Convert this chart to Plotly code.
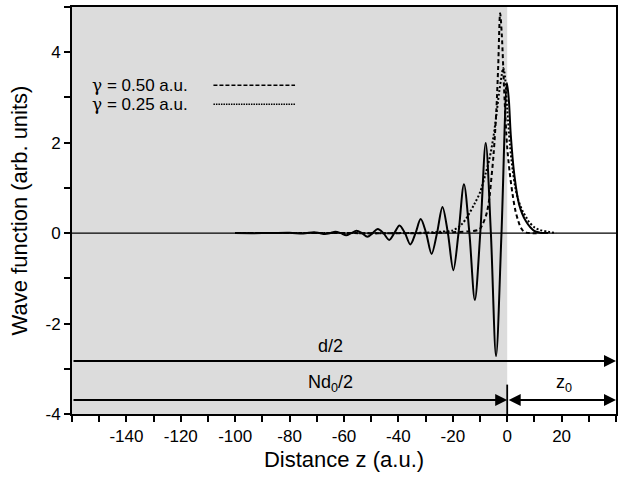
import plotly.graph_objects as go

# ---- data ----
z_solid = [-100, -90, -80, -75, -71, -69, -67, -65, -63.2, -61.2, -59.2, -57.3, -55.4, -53.4,
           -51.4, -49.5, -47.6, -45.5, -43.4, -41.5, -39.6, -37.6, -35.6, -33.7, -31.8, -29.8,
           -27.8, -25.8, -23.8, -21.8, -19.8, -17.9, -15.9, -13.9, -11.9, -9.9, -7.9, -6.0,
           -4.1, -2.1, -0.1, 0.6, 1.3, 2.6, 4.4, 6.9, 9.9, 12, 15]
psi_solid = [0, 0, 0.01, -0.01, 0.02, 0, -0.02, 0, 0.03, 0, -0.05, 0, 0.05, 0,
             -0.08, 0, 0.09, 0, -0.15, 0, 0.17, 0, -0.25, 0, 0.31, 0,
             -0.46, 0, 0.58, 0, -0.82, 0, 1.08, 0, -1.48, 0, 1.99, 0,
             -2.72, 0, 3.32, 2.95, 2.18, 1.3, 0.63, 0.26, 0.05, 0.01, 0]

z_g050 = [-100, -60, -30, -20, -14, -10.3, -9, -7.5, -6.5, -6, -5, -4, -3.3, -2.6,
          -2, -1, 0, 1, 2, 3, 4, 5, 6, 7, 9, 12]
psi_g050 = [0, 0, 0, 0.02, 0.04, 0.08, 0.2, 0.45, 0.8, 1.1, 1.75, 2.7, 3.7, 4.86,
            4.4, 3.0, 1.9, 1.3, 0.85, 0.5, 0.28, 0.12, 0.04, 0.01, 0, 0]

z_g025 = [-100, -60, -40, -30, -25, -20, -17, -15, -12, -10, -8, -6.5, -5, -4, -3, -2,
          -1.5, -1, 0, 1, 2, 3, 4, 5, 6, 7, 8, 10, 12, 15, 18]
psi_g025 = [0, 0, 0, 0.01, 0.03, 0.06, 0.18, 0.33, 0.65, 0.9, 1.3, 1.65, 2.15, 2.6, 3.1, 3.5,
            3.65, 3.55, 2.75, 1.95, 1.4, 1.0, 0.75, 0.58, 0.45, 0.35, 0.25, 0.13, 0.07, 0.03, 0]

legend_labels = ["<span style='font-family:DejaVu Serif'>γ</span> = 0.50 a.u.",
                 "<span style='font-family:DejaVu Serif'>γ</span> = 0.25 a.u."]
x_ticks = [-140, -120, -100, -80, -60, -40, -20, 0, 20]
y_ticks = [-4, -2, 0, 2, 4]
x_range = [-160, 40]
y_range = [-4, 5]

FONT = "Liberation Sans, Arial, Helvetica, sans-serif"

fig = go.Figure()

fig.add_trace(go.Scatter(x=z_solid, y=psi_solid, mode="lines",
                         line=dict(color="black", width=2, shape="spline", smoothing=0.9),
                         showlegend=False, hoverinfo="skip"))
fig.add_trace(go.Scatter(x=z_g050, y=psi_g050, mode="lines",
                         line=dict(color="black", width=2, dash="4px,3px", shape="spline", smoothing=0.9),
                         showlegend=False, hoverinfo="skip"))
fig.add_trace(go.Scatter(x=z_g025, y=psi_g025, mode="lines",
                         line=dict(color="black", width=2, dash="2px,2px", shape="spline", smoothing=0.9),
                         showlegend=False, hoverinfo="skip"))

shapes = [
    # grey shaded region (z < 0)
    dict(type="rect", xref="x", yref="paper", x0=x_range[0], x1=0, y0=0, y1=1,
         fillcolor="#dcdcdc", line=dict(width=0), layer="below"),
    # zero line
    dict(type="line", xref="paper", yref="y", x0=0, x1=1, y0=0, y1=0,
         line=dict(color="black", width=1.2), layer="below"),
    # vertical marker at z=0 for the arrows
    dict(type="line", xref="x", yref="y", x0=0, x1=0, y0=-3.35, y1=y_range[0],
         line=dict(color="black", width=1.8)),
    # legend line samples
    dict(type="line", xref="x", yref="y", x0=-108, x1=-78, y0=3.27, y1=3.27,
         line=dict(color="black", width=1.5, dash="4px,2px")),
    dict(type="line", xref="x", yref="y", x0=-108, x1=-78, y0=2.85, y1=2.85,
         line=dict(color="black", width=1.6, dash="1.5px,1px")),
]

arrow_common = dict(xref="x", yref="y", axref="x", ayref="y", showarrow=True,
                    arrowhead=2, arrowsize=1.2, arrowwidth=2, arrowcolor="black",
                    standoff=0, startstandoff=0, text=" ", font=dict(size=1))

annotations = [
    dict(x=x_range[1], y=-2.83, ax=x_range[0], ay=-2.83, **arrow_common),
    dict(x=0, y=-3.69, ax=x_range[0], ay=-3.69, **arrow_common),
    dict(x=x_range[1], y=-3.69, ax=0, ay=-3.69, startarrowhead=2, arrowside="end+start",
         startarrowsize=1.2, **arrow_common),
    dict(x=-65, y=-2.5, xref="x", yref="y", text="d/2", showarrow=False,
         font=dict(family=FONT, size=18, color="black")),
    dict(x=-65, y=-3.33, xref="x", yref="y", text="Nd<sub>0</sub>/2", showarrow=False,
         font=dict(family=FONT, size=18, color="black")),
    dict(x=21, y=-3.33, xref="x", yref="y", text="z<sub>0</sub>", showarrow=False,
         font=dict(family=FONT, size=18, color="black")),
    dict(x=-153.5, y=3.27, xref="x", yref="y", text=legend_labels[0], showarrow=False,
         xanchor="left", font=dict(family=FONT, size=17, color="black")),
    dict(x=-153.5, y=2.85, xref="x", yref="y", text=legend_labels[1], showarrow=False,
         xanchor="left", font=dict(family=FONT, size=17, color="black")),
]

fig.update_layout(
    width=623, height=479,
    margin=dict(l=72, r=6, t=5, b=65),
    paper_bgcolor="white", plot_bgcolor="white",
    font=dict(family=FONT, size=16, color="black"),
    shapes=shapes, annotations=annotations,
    showlegend=False,
)

fig.update_xaxes(range=x_range, tickvals=x_ticks, ticktext=[str(v) for v in x_ticks],
                 showgrid=False, zeroline=False,
                 showline=True, linecolor="black", linewidth=2, mirror=True,
                 ticks="outside", ticklen=6, tickwidth=2, tickcolor="black",
                 minor=dict(dtick=10, tick0=0, ticks="outside", ticklen=6, tickwidth=2,
                            tickcolor="black", showgrid=False),
                 tickfont=dict(family=FONT, size=17),
                 title=dict(text="Distance z (a.u.)", font=dict(family=FONT, size=22), standoff=6))
fig.update_yaxes(range=y_range, tickvals=y_ticks, ticktext=[str(v) for v in y_ticks],
                 showgrid=False, zeroline=False,
                 showline=True, linecolor="black", linewidth=2, mirror=True,
                 ticks="outside", ticklen=6, tickwidth=2, tickcolor="black",
                 minor=dict(dtick=1, tick0=0, ticks="outside", ticklen=6, tickwidth=2,
                            tickcolor="black", showgrid=False),
                 tickfont=dict(family=FONT, size=17),
                 title=dict(text="Wave function (arb. units)", font=dict(family=FONT, size=22), standoff=12))

fig.write_html("out.html", config={"displayModeBar": False},
               post_script="document.body.style.margin='0';")
